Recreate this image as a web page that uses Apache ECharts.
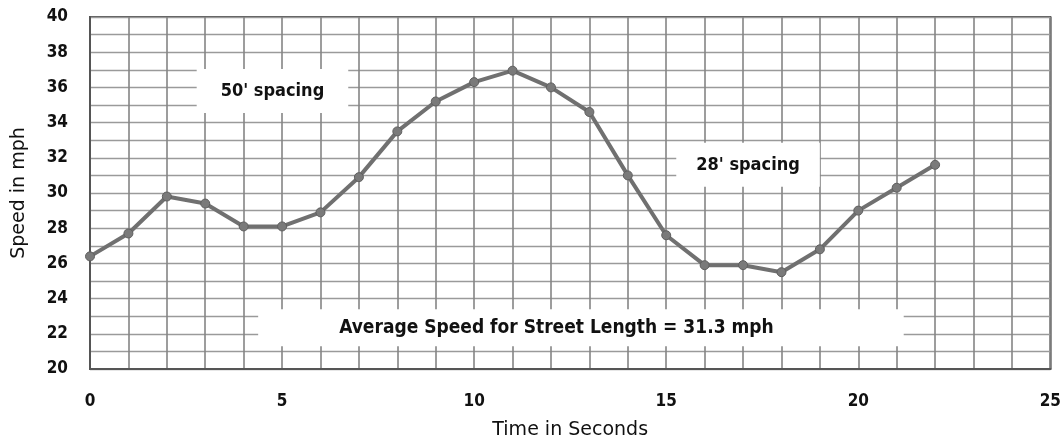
<!DOCTYPE html>
<html>
<head>
<meta charset="utf-8">
<script src="https://cdn.jsdelivr.net/npm/echarts@6/dist/echarts.min.js"></script>
<style>
html,body{margin:0;padding:0;background:#fff;}
#chart{width:1064px;height:445px;}
</style>
</head>
<body>
<div id="chart"></div>
<script>
// Time in seconds
var times = [0, 1, 2, 3, 4, 5, 6, 7, 8, 9, 10, 11, 12, 13, 14, 15, 16, 17, 18, 19, 20, 21, 22];
// Speed in mph
var speeds = [26.4, 27.7, 29.8, 29.4, 28.1, 28.1, 28.9, 30.9, 33.5, 35.2, 36.3, 36.95, 36.0, 34.6, 31.0, 27.6, 25.9, 25.9, 25.5, 26.8, 29.0, 30.3, 31.6];
var xTickLabels = [0, 5, 10, 15, 20, 25];
var yTickLabels = [20, 22, 24, 26, 28, 30, 32, 34, 36, 38, 40];
var annotationTexts = ["50' spacing", "28' spacing", "Average Speed for Street Length = 31.3 mph"];
var annotationAnchors = [[4.75, 35.8], [17.13, 31.6], [12.78, 22.35]];

var chart = echarts.init(document.getElementById('chart'));
var fontCond = '"DejaVu Sans Condensed", "DejaVu Sans", sans-serif';
var fontReg = '"DejaVu Sans", sans-serif';
var pts = times.map(function (t, i) { return [t, speeds[i]]; });

var option = {
  backgroundColor: '#ffffff',
  animation: false,
  grid: { left: 90, right: 11, top: 17, bottom: 73, show: true, borderColor: '#555', borderWidth: 2, backgroundColor: 'transparent' },
  xAxis: {
    type: 'value', min: 0, max: 25, interval: 1,
    name: 'Time in Seconds', nameLocation: 'middle', nameGap: 52,
    nameTextStyle: { color: '#111', fontFamily: fontReg, fontSize: 19 },
    axisLine: { lineStyle: { color: '#555', width: 2 } },
    axisTick: { show: false },
    axisLabel: {
      color: '#111', fontFamily: fontCond, fontWeight: 'bold', fontSize: 17, margin: 24,
      formatter: function (v) { return xTickLabels.indexOf(v) >= 0 ? String(v) : ''; }
    },
    splitLine: { show: true, lineStyle: { color: '#858585', width: 1.6 } }
  },
  yAxis: {
    type: 'value', min: 20, max: 40, interval: 1,
    name: 'Speed in mph', nameLocation: 'middle', nameGap: 61,
    nameTextStyle: { color: '#111', fontFamily: fontReg, fontSize: 19 },
    axisLine: { show: true, lineStyle: { color: '#555', width: 2 } },
    axisTick: { show: false },
    axisLabel: {
      color: '#111', fontFamily: fontCond, fontWeight: 'bold', fontSize: 17, margin: 22,
      formatter: function (v) { return yTickLabels.indexOf(v) >= 0 ? String(v) : ''; }
    },
    splitLine: { show: true, lineStyle: { color: '#9a9a9a', width: 1.4 } }
  },
  series: [{
    type: 'line',
    data: pts,
    symbol: 'circle',
    symbolSize: 9,
    lineStyle: { color: '#707070', width: 4 },
    itemStyle: { color: '#7a7a7a', borderColor: '#5f5f5f', borderWidth: 1 },
    z: 5
  }]
};
chart.setOption(option);

var pads = [[13, 24, 13, 24], [13, 20, 13, 20], [9, 130, 9, 81]];
var sizes = [18, 18, 19];
var graphics = annotationTexts.map(function (txt, i) {
  var p = chart.convertToPixel({ gridIndex: 0 }, annotationAnchors[i]);
  return {
    type: 'text', x: p[0], y: p[1], z: 3,
    style: {
      text: txt, fill: '#111', font: 'bold ' + sizes[i] + 'px ' + fontCond,
      align: 'center', verticalAlign: 'middle',
      backgroundColor: '#ffffff', padding: pads[i]
    }
  };
});
chart.setOption({ graphic: graphics });
</script>
</body>
</html>
